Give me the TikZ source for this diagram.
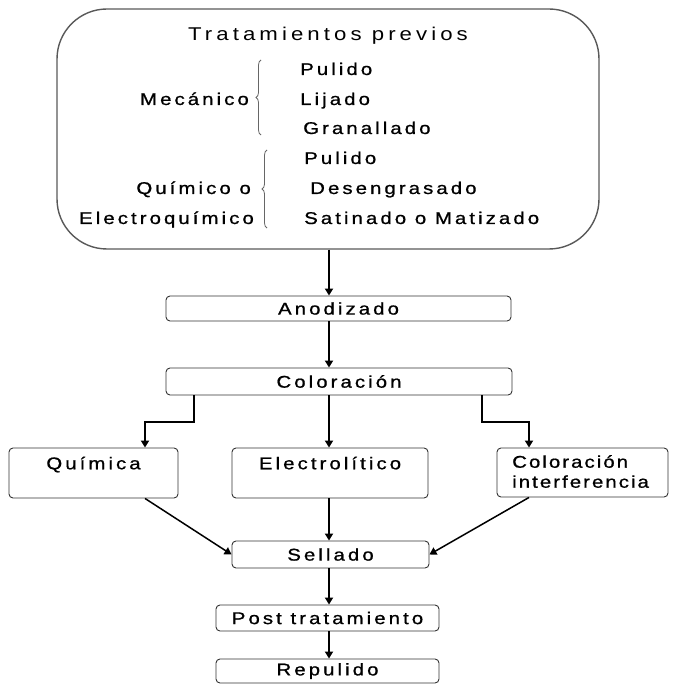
\documentclass[tikz,border=0pt]{standalone}
\usepackage{fontspec}
\setmainfont{Liberation Sans}[FakeStretch=1.2, LetterSpace=18, FakeBold=0.9]
\newfontfamily\titlefont{Liberation Sans}[FakeStretch=1.2, LetterSpace=22]
\usetikzlibrary{arrows.meta}
\usetikzlibrary{positioning}
\usetikzlibrary{decorations.pathreplacing}

\tikzset{
  box/.style={draw=black!80, line width=0.9pt, rounded corners=4pt, inner sep=0pt,
    font=\fontsize{17}{20}\selectfont},
  bigbox/.style={draw=black!65, line width=1.4pt, rounded corners=50pt, inner sep=0pt},
  lbl/.style={inner sep=0pt, font=\fontsize{17}{20}\selectfont},
  arr/.style={-{Triangle[width=8pt,length=7pt]}, line width=2pt},
  brc/.style={decorate, decoration={brace, amplitude=5pt}, draw=black!60, line width=0.8pt},
}

\begin{document}
\begin{tikzpicture}[x=1pt, y=-1pt]
\useasboundingbox (0,0) rectangle (674,684);

% pre-treatments
\node[bigbox, minimum width=542pt, minimum height=240pt] (pre) at (328,129) {}; %
\node[lbl, anchor=base, font=\titlefont\fontsize{18.5}{22}\selectfont] (pre-t) at (328,41) {Tratamientos previos};

% mechanical
\node[lbl, anchor=base east] (mec) at (249,105) {Mecánico};
\draw[brc] (261,135) -- (261,60);
\node[lbl, anchor=base west] (mec-pul) at (300,75) {Pulido};
\node[lbl, anchor=base west] (mec-lij) at (300,105) {Lijado};
\node[lbl, anchor=base west] (mec-gra) at (303,134) {Granallado};

% chemical
\node[lbl, anchor=base east] (qui) at (251,194) {Químico o};
\node[lbl, anchor=base east] (elq) at (254,224) {Electroquímico};
\draw[brc] (267,228) -- (267,150);
\node[lbl, anchor=base west] (qui-pul) at (304,164) {Pulido};
\node[lbl, anchor=base west] (qui-des) at (310,194) {Desengrasado};
\node[lbl, anchor=base west] (qui-sat) at (304,224) {Satinado o Matizado};

% main line
\coordinate (mid) at (329,0);
\node[box, minimum width=345pt, minimum height=25pt] (anod) at (338.5,308.5) {Anodizado};
\node[box, minimum width=346pt, minimum height=27pt] (color) at (339,381.5) {Coloración};
\draw[arr] (pre.south -| mid) -- (anod.north -| mid);
\draw[arr] (anod.south -| mid) -- (color.north -| mid);

% colouring methods
\node[box, minimum width=169pt, minimum height=50pt] (quim) at (93.5,473) {};
\node[lbl, below=9pt of quim.north] (quim-t) {Química};
\node[box, minimum width=196pt, minimum height=50pt] (elec) at (330,473) {};
\node[lbl, below=9pt of elec.north] (elec-t) {Electrolítico};
\node[box, minimum width=171pt, minimum height=49pt] (inter) at (582.5,472.5) {};
\node[lbl, anchor=north west, align=left, font=\fontsize{17}{20}\selectfont\addfontfeature{LetterSpace=12}] (inter-t) at (512,455) {Coloración\\interferencia};

\coordinate (qb) at (194,0);
\coordinate (qd) at (145,422);
\coordinate (ib) at (482,0);
\coordinate (id) at (529,422);
\draw[arr] (color.south -| qb) |- (qd) -- (quim.north -| qd);
\draw[arr] (color.south -| mid) -- (elec.north -| mid);
\draw[arr] (color.south -| ib) |- (id) -- (inter.north -| id);

% sealing and after
\node[box, minimum width=197pt, minimum height=27pt] (sell) at (330.5,554.5) {Sellado};
\node[box, minimum width=223pt, minimum height=26pt] (post) at (327.5,618) {Post tratamiento};
\node[box, minimum width=223pt, minimum height=24pt] (repu) at (327.5,671) {Repulido};

\draw[arr, line width=1.5pt] (quim.south -| qd) -- (sell.west);
\draw[arr] (elec.south -| mid) -- (sell.north -| mid);
\draw[arr, line width=1.5pt] (inter.south -| id) -- (sell.east);
\draw[arr] (sell.south -| mid) -- (post.north -| mid);
\draw[arr] (post.south -| mid) -- (repu.north -| mid);
\end{tikzpicture}
\end{document}
